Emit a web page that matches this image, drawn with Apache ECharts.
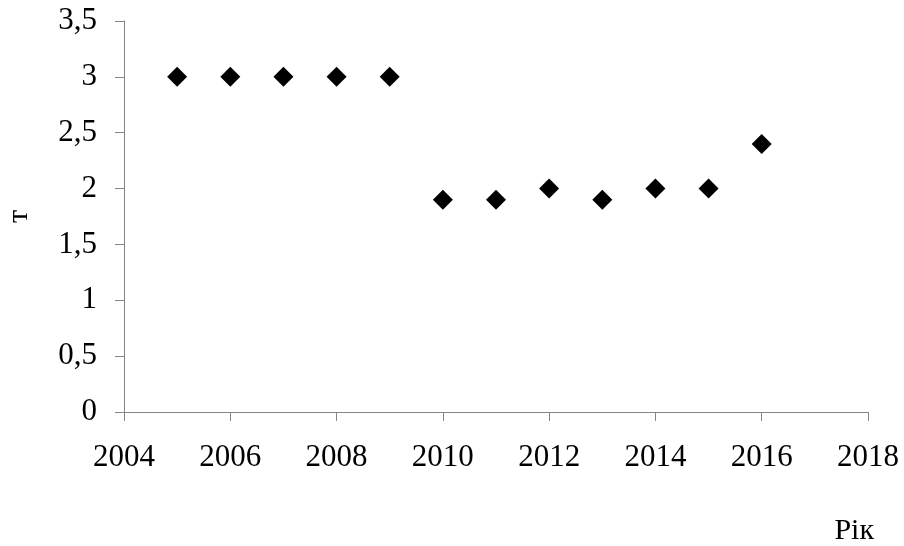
<!DOCTYPE html>
<html>
<head>
<meta charset="utf-8">
<script src="https://cdn.jsdelivr.net/npm/echarts@6/dist/echarts.min.js"></script>
<style>html,body{margin:0;padding:0;background:#fff}#c{width:904px;height:546px}</style>
</head>
<body>
<div id="c"></div>
<script>
const years = [2005, 2006, 2007, 2008, 2009, 2010, 2011, 2012, 2013, 2014, 2015, 2016];
const values = [3, 3, 3, 3, 3, 1.9, 1.9, 2.0, 1.9, 2.0, 2.0, 2.4];
const yName = 'т';
const xName = 'Рік';

const font = '"Liberation Serif", "Times New Roman", serif';
const chart = echarts.init(document.getElementById('c'));
const axisColor = '#868686';
chart.setOption({
  animation: false,
  grid: { left: 124, right: 36, top: 21, bottom: 134, containLabel: false, outerBoundsMode: 'none' },
  xAxis: {
    type: 'value', min: 2004, max: 2018, interval: 2,
    axisLine: { show: true, lineStyle: { color: axisColor, width: 1 } },
    axisTick: { show: true, length: 9, lineStyle: { color: axisColor } },
    splitLine: { show: false },
    axisLabel: { color: '#000', fontFamily: font, fontSize: 31, margin: 30,
      formatter: v => String(v) }
  },
  yAxis: {
    type: 'value', min: 0, max: 3.5, interval: 0.5,
    name: yName, nameLocation: 'middle', nameRotate: 90, nameGap: 90,
    nameTextStyle: { color: '#000', fontFamily: font, fontSize: 30 },
    axisLine: { show: true, lineStyle: { color: axisColor, width: 1 } },
    axisTick: { show: true, length: 9, lineStyle: { color: axisColor } },
    splitLine: { show: false },
    axisLabel: { color: '#000', fontFamily: font, fontSize: 31, margin: 27,
      formatter: v => String(v).replace('.', ',') }
  },
  graphic: [{
    type: 'text', right: 30, top: 516,
    style: { text: xName, fill: '#000', font: '30px ' + font }
  }],
  series: [{
    type: 'scatter',
    symbol: 'diamond',
    symbolSize: [20, 20],
    itemStyle: { color: '#000', opacity: 1 },
    data: years.map((y, i) => [y, values[i]])
  }]
});
</script>
</body>
</html>
